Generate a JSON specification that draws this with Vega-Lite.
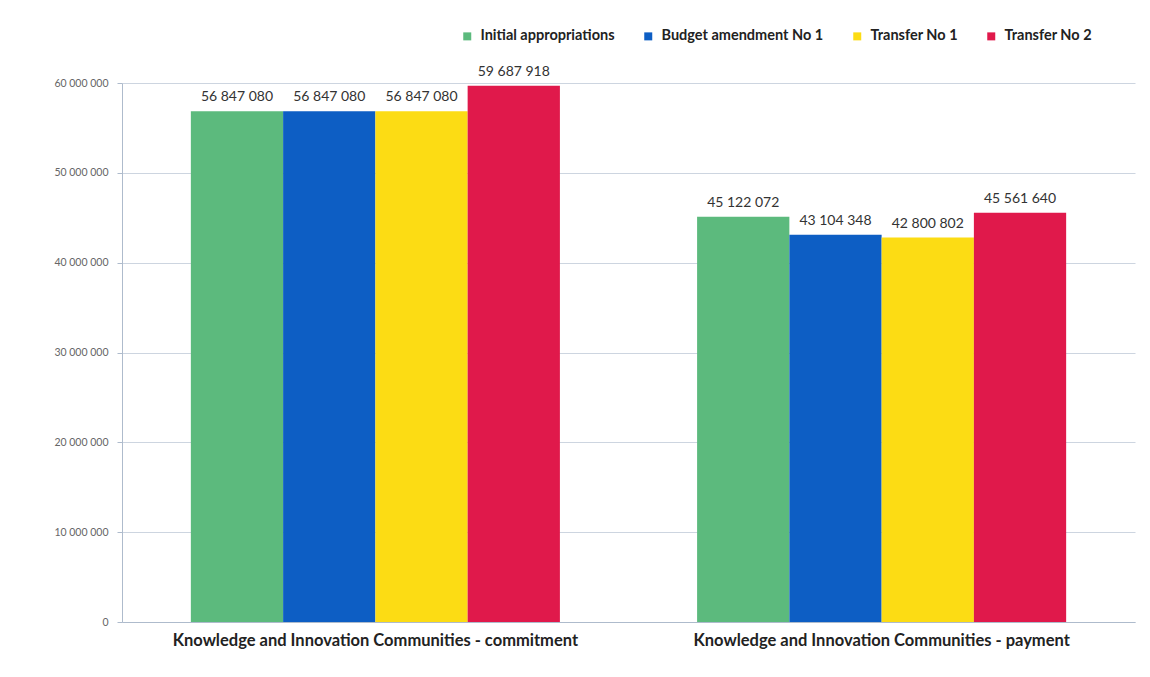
{
  "$schema": "https://vega.github.io/schema/vega-lite/v6.json",
  "width": 1013,
  "height": 539,
  "autosize": {"type": "none"},
  "padding": {"left": 122, "top": 83, "right": 15, "bottom": 55},
  "background": "white",
  "config": {
    "locale": {"number": {"decimal": ".", "thousands": " ", "grouping": [3], "currency": ["", ""]}},
    "font": "Lato",
    "view": {"stroke": null}
  },
  "data": {
    "values": [
      {"category": "Knowledge and Innovation Communities - commitment", "series": "Initial appropriations", "value": 56847080},
      {"category": "Knowledge and Innovation Communities - commitment", "series": "Budget amendment No 1", "value": 56847080},
      {"category": "Knowledge and Innovation Communities - commitment", "series": "Transfer No 1", "value": 56847080},
      {"category": "Knowledge and Innovation Communities - commitment", "series": "Transfer No 2", "value": 59687918},
      {"category": "Knowledge and Innovation Communities - payment", "series": "Initial appropriations", "value": 45122072},
      {"category": "Knowledge and Innovation Communities - payment", "series": "Budget amendment No 1", "value": 43104348},
      {"category": "Knowledge and Innovation Communities - payment", "series": "Transfer No 1", "value": 42800802},
      {"category": "Knowledge and Innovation Communities - payment", "series": "Transfer No 2", "value": 45561640}
    ]
  },
  "encoding": {
    "x": {
      "field": "category", "type": "nominal", "sort": null,
      "scale": {"paddingInner": 0.271, "paddingOuter": 0.136},
      "axis": {"title": null, "labelAngle": 0, "labelFontSize": 16.5, "labelFontWeight": "bold", "labelColor": "#222222", "labelPadding": 10, "labelLimit": 0, "ticks": false, "domainColor": "#aebbcc"}
    },
    "xOffset": {"field": "series", "type": "nominal", "sort": ["Initial appropriations", "Budget amendment No 1", "Transfer No 1", "Transfer No 2"]},
    "y": {
      "field": "value", "type": "quantitative",
      "scale": {"domain": [0, 60000000]},
      "axis": {"title": null, "values": [0, 10000000, 20000000, 30000000, 40000000, 50000000, 60000000], "format": ",d", "labelFontSize": 10.5, "labelColor": "#666666", "gridColor": "#cdd5e0", "domainColor": "#aebbcc", "tickColor": "#aebbcc", "tickSize": 5, "labelPadding": 9}
    }
  },
  "layer": [
    {
      "mark": {"type": "bar"},
      "encoding": {
        "color": {
          "field": "series", "type": "nominal",
          "scale": {"domain": ["Initial appropriations", "Budget amendment No 1", "Transfer No 1", "Transfer No 2"], "range": ["#5cba7d", "#0d5ec4", "#fcdc14", "#e0194b"]},
          "legend": {
            "title": null, "orient": "none", "legendX": 338, "legendY": -54, "direction": "horizontal",
            "symbolType": "square", "symbolSize": 64, "symbolStrokeWidth": 0, "labelFontSize": 14.5, "labelFontWeight": "bold", "labelColor": "#222222", "labelLimit": 0, "columnPadding": 26, "labelOffset": 6
          }
        }
      }
    },
    {
      "mark": {"type": "text", "dy": -10, "fontSize": 14, "color": "#333333", "baseline": "alphabetic"},
      "encoding": {
        "text": {"field": "value", "type": "quantitative", "format": ",d"}
      }
    }
  ]
}
